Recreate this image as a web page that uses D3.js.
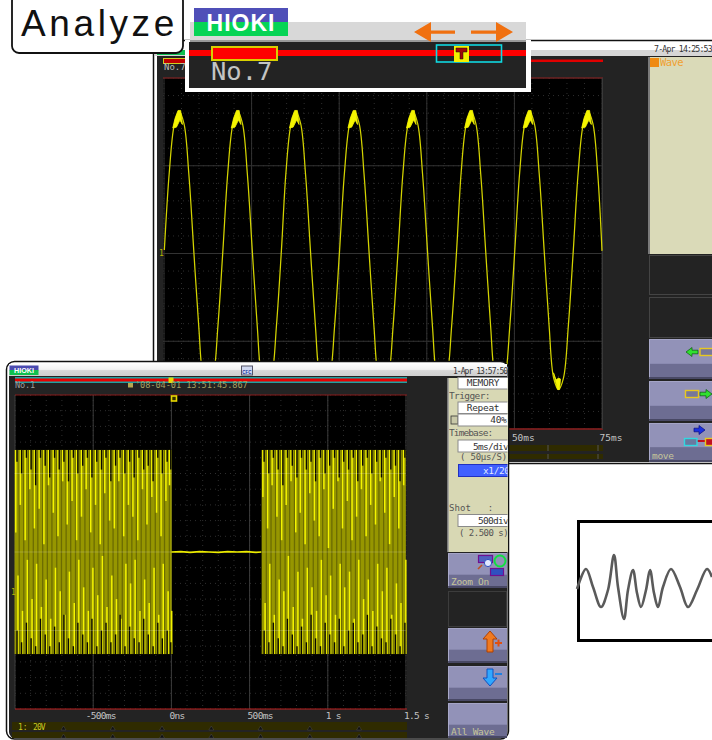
<!DOCTYPE html>
<html><head><meta charset="utf-8">
<script src="https://d3js.org/d3.v7.min.js"></script>
<style>html,body{margin:0;padding:0;background:#fff;overflow:hidden}svg{display:block}text{white-space:pre}</style>
</head><body><svg id="c" width="712" height="740"></svg>
<script>
// ---- upper capture: time in ms, level in divisions
const upperTickMs=[-50,-25,0,25,50,75];
const upperTickLabels=["-50ms","-25ms","0ns","25ms","50ms","75ms"];
const upperLevelTicks=[-2,-1,0,1,2];
const waveMs=[-49.9,-48.5,-47.1,-45.7,-44.3,-42.9,-41.5,-40.1,-38.8,-37.4,-36.0,-34.6,-33.2,
-31.8,-30.4,-29.0,-27.6,-26.2,-24.8,-23.4,-22.1,-20.7,-19.3,-17.9,-16.5,
-15.2,-13.8,-12.4,-11.0,-9.6,-8.2,-6.8,-5.5,-4.1,-2.7,-1.3,0.1,
1.5,2.9,4.3,5.7,7.1,8.5,9.9,11.2,12.6,14.0,15.4,16.8,
18.2,19.6,21.0,22.4,23.8,25.2,26.6,27.9,29.3,30.7,32.1,33.5,
34.8,36.2,37.6,39.0,40.4,41.8,43.2,44.5,45.9,47.3,48.7,50.1,
51.5,52.9,54.3,55.7,57.1,58.5,59.9,61.2,62.6,64.0,65.4,66.8,
68.2,69.6,71.0,72.4,73.8,75.0];
const waveDiv=[0.04,0.92,1.46,1.62,1.48,0.90,0.03,-0.82,-1.42,-1.55,-1.42,-0.82,0.03,
0.92,1.46,1.62,1.48,0.90,0.03,-0.82,-1.42,-1.55,-1.42,-0.82,0.03,
0.92,1.46,1.62,1.48,0.90,0.03,-0.82,-1.42,-1.55,-1.42,-0.82,0.03,
0.92,1.46,1.62,1.48,0.90,0.03,-0.82,-1.42,-1.55,-1.42,-0.82,0.03,
0.92,1.46,1.62,1.48,0.90,0.03,-0.82,-1.42,-1.55,-1.42,-0.82,0.03,
0.92,1.46,1.62,1.48,0.90,0.03,-0.82,-1.42,-1.55,-1.42,-0.82,0.03,
0.92,1.46,1.62,1.48,0.90,0.03,-0.82,-1.42,-1.55,-1.42,-0.82,0.03,
0.92,1.46,1.62,1.48,0.90,0.03];
const peakMs=[-45.7,-29.0,-12.4,4.3,21.0,37.6,54.3,71.0];
const troughMs=[62.6];
// ---- lower capture: time in ms, level in divisions
const lowerTickMs=[-1000,-500,0,500,1000,1500];
const lowerTickLabels=["","-500ms","0ns","500ms","1 s","1.5 s"];
const leftBurstMs=[-995,-966,-935,-905,-876,-845,-815,-786,-755,-725,-695,-666,-635,-606,-575,-545,-516,-485,-455,-426,-395,-365,-336,-305,-275,-246,-215,-185,-156,-125,-95,-66,-35,-12];
const rightBurstMs=[585,615,644,675,705,734,765,795,824,855,885,914,945,975,1004,1035,1065,1094,1125,1155,1184,1215,1245,1274,1305,1335,1364,1395,1425,1454,1485];
const leftTopEnd=[0.25,0.6,0.15,0.8,0.3,0.55,0.1,0.85,0.5,0.2,0.9,0.35,0.65,0.15,0.45,0.8,0.25,0.6,0.1,0.75,0.4,0.3,0.9,0.2,0.6,0.45,0.15,0.8,0.35,0.7,0.5,0.2,0.65,0.85];
const leftBottomEnd=[-0.3,-0.75,-0.1,-0.6,-0.15,-0.7,-0.35,-0.85,-0.2,-0.5,-0.8,-0.25,-0.65,-0.1,-0.45,-0.75,-0.2,-0.55,-0.05,-0.7,-0.3,-0.6,-0.85,-0.15,-0.4,-0.1,-0.75,-0.35,-0.65,-0.2,-0.8,-0.15,-0.5,-0.75];
const rightTopEnd=[0.7,0.3,0.85,0.45,0.15,0.6,0.9,0.25,0.5,0.1,0.75,0.4,0.2,0.8,0.05,0.55,0.9,0.3,0.65,0.15,0.45,0.8,0.2,0.6,0.35,0.9,0.5,0.1,0.7,0.3,0.85];
const rightBottomEnd=[-0.65,-0.15,-0.8,-0.35,-0.5,-0.05,-0.7,-0.25,-0.85,-0.2,-0.45,-0.75,-0.1,-0.55,-0.3,-0.8,-0.15,-0.45,-0.25,-0.85,-0.1,-0.6,-0.35,-0.75,-0.15,-0.5,-0.2,-0.8,-0.4,-0.65,-0.1];
const gapTopEnd=[1.15,1.0,1.2,1.05,0.85,1.2,1.1,0.95,1.2,1.05,1.15,0.9,1.2,1.0,1.1,1.2,0.95,1.15,1.05,1.2,0.9,1.1,1.2,1.0,1.15,0.95,1.2,1.05,1.1,0.9,1.2,1.0,1.15,1.05];
const gapBottomEnd=[-1.0,-1.15,-0.9,-1.1,-1.2,-0.85,-1.05,-1.2,-0.95,-1.15,-0.8,-1.1,-1.2,-0.9,-1.05,-1.15,-0.85,-1.2,-1.0,-0.9,-1.15,-1.05,-0.8,-1.2,-0.95,-1.1,-1.15,-0.85,-1.05,-1.2,-0.9,-1.1,-1.0,-1.15];
const idleMs=[0,60,120,180,240,300,360,420,480,540,575];
const idleDiv=[0.0,0.005,-0.005,0.005,0.0,-0.005,0.005,0.0,0.005,-0.005,0.0];
const stripMarkMs=[-690,-375,-60,255,570,885,1200];
// ---- small inset sketch
const sketchPos=[0,9,16,24,31,37,41,47,51,56,60,64,69,73,77,81,86,94,103,111,120,130,135];
const sketchVal=[0,20,2,-18,-1,34,2,-30,-1,19,-4,-18,-1,19,-4,-18,2,20,2,-18,-1,20,12];
// ---- words
const titleWord="Analyze", brandWord="HIOKI", captureUpper="No.7", captureLower="No.1";
const clockUpper="7-Apr 14:25:53", clockLower="1-Apr 13:57:50", stampLower="'08-04-01 13:51:45.867";
const panelHeads=["Trigger:","Timebase:","( 50\u03bcs/S)","Shot   :","( 2.500 s)"];
const panelBoxes=["MEMORY","Repeat","40%","5ms/div","500div"];

const svg=d3.select("#c");
const defs=svg.append("defs");
const clip=(id,x,y,w,h)=>defs.append("clipPath").attr("id",id).append("rect").attr("x",x).attr("y",y).attr("width",w).attr("height",h);
clip("upPlot",163,78,440,351); clip("lowPanel",449,360,58.5,380); clip("page",0,0,712,740);
const logoGrad=defs.append("linearGradient").attr("id","bar").attr("x1",0).attr("x2",0).attr("y1",0).attr("y2",1);
logoGrad.append("stop").attr("offset",0).attr("stop-color","#fdfdfd");logoGrad.append("stop").attr("offset",.45).attr("stop-color","#f2f2f2");logoGrad.append("stop").attr("offset",.55).attr("stop-color","#d8d8d8");logoGrad.append("stop").attr("offset",1).attr("stop-color","#cfcfcf");

const rect=(g,x,y,w,h,fill,o={})=>g.append("rect").attr("x",x).attr("y",y).attr("width",w).attr("height",h).attr("fill",fill).attr("stroke",o.stroke||"none").attr("stroke-width",o.sw||1).attr("rx",o.rx||0);
const txt=(g,x,y,s,o={})=>g.append("text").attr("x",x).attr("y",y).text(s).attr("fill",o.fill||"#c8c8c8").attr("font-family",o.family||"'DejaVu Sans Mono',monospace").attr("font-size",o.size||9.5).attr("font-weight",o.weight||"normal").attr("letter-spacing",o.ls||0).attr("text-anchor",o.anchor||"start");
const seg=(g,x1,y1,x2,y2,c,w=1,d=null)=>g.append("line").attr("x1",x1).attr("y1",y1).attr("x2",x2).attr("y2",y2).attr("stroke",c).attr("stroke-width",w).attr("stroke-dasharray",d);
function button(g,x,y,w,h,label){
  rect(g,x,y,w,h,"#6d6d92");
  rect(g,x,y,w,h*0.62,"#9292b8");
  seg(g,x+.5,y,x+.5,y+h,"#a9a9c9",1);
  seg(g,x,y+.5,x+w,y+.5,"#a4a4c6",1);
  seg(g,x,y+h-1,x+w,y+h-1,"#3c3c55",1.5);
  if(label) txt(g,x+3,y+h-3,label,{fill:"#c6c69a",size:9.5,ls:-.3});
}
const arrowH=(g,x0,x1,y,c,edge="#0a5a0a")=>{
  const d=x1>x0?1:-1,hl=6;
  g.append("path").attr("d",`M${x0},${y-1.8}L${x1-d*hl},${y-1.8}L${x1-d*hl},${y-4.5}L${x1},${y}L${x1-d*hl},${y+4.5}L${x1-d*hl},${y+1.8}L${x0},${y+1.8}Z`).attr("fill",c).attr("stroke",edge).attr("stroke-width",.7);
};
const arrowV=(g,x,y0,y1,c,edge)=>{
  const d=y1>y0?1:-1,hl=8;
  g.append("path").attr("d",`M${x-3},${y0}L${x-3},${y1-d*hl}L${x-7},${y1-d*hl}L${x},${y1}L${x+7},${y1-d*hl}L${x+3},${y1-d*hl}L${x+3},${y0}Z`).attr("fill",c).attr("stroke",edge).attr("stroke-width",1);
};

// ================= UPPER SCOPE =================
const up=svg.append("g").attr("clip-path","url(#page)");
rect(up,153.5,40.5,580,423,"#fff",{stroke:"#111",sw:1.5,rx:6});
rect(up,157,50,560,412,"#232323");
rect(up,155,42,560,8,"#fff");
rect(up,155,50,560,6,"#d6d6d6");
rect(up,157,50,28,5,"#10c050");
txt(up,654,52,clockUpper,{fill:"#333",size:8.2,ls:-.8});
rect(up,163,59.5,440,2.5,"#e00000");
rect(up,163.5,58.5,23,5,"#c00000",{stroke:"#cfcf20"});
txt(up,164,70,captureUpper,{size:9,fill:"#bdbdbd"});
const xU=d3.scaleLinear().domain([-50,75]).range([164,602]);
const yU=d3.scaleLinear().domain([-2,2]).range([429,78]);
const pU=up.append("g");
rect(pU,163,78,440,351,"#000");
pU.selectAll("line.fx").data(xU.ticks(25)).join("line").attr("class","fx").attr("x1",xU).attr("x2",xU).attr("y1",78).attr("y2",429).attr("stroke","#2e2e2e").attr("stroke-dasharray","1 4");
pU.selectAll("line.fy").data(yU.ticks(20)).join("line").attr("class","fy").attr("y1",yU).attr("y2",yU).attr("x1",163).attr("x2",603).attr("stroke","#2e2e2e").attr("stroke-dasharray","1 4");
pU.append("g").selectAll("line").data(upperTickMs).join("line").attr("x1",xU).attr("x2",xU).attr("y1",78).attr("y2",429).attr("stroke","#333");
pU.append("g").selectAll("line").data(upperLevelTicks).join("line").attr("y1",yU).attr("y2",yU).attr("x1",163).attr("x2",603).attr("stroke","#333");
seg(pU,163,78,603,78,"#8a1a1a",1.2); seg(pU,163,429,603,429,"#8a1a1a",1.5); seg(pU,602.5,78,602.5,429,"#3a3a3a",1);
const lineU=d3.line().x((d,i)=>xU(waveMs[i])).y(d=>yU(d)).curve(d3.curveCatmullRom.alpha(.5));
const wg=pU.append("g").attr("clip-path","url(#upPlot)");
wg.append("path").attr("d",lineU(waveDiv)).attr("fill","none").attr("stroke","#d4d400").attr("stroke-width",1.25);
const capLine=d3.line().x(d=>xU(d[0])).y(d=>yU(d[1]));
wg.selectAll("path.cap").data(peakMs).join("path").attr("class","cap").attr("d",p=>capLine([[p-1.8,1.43],[p-1.15,1.54],[p-.3,1.63],[p+.45,1.63],[p+.95,1.47],[p+.25,1.52],[p-.75,1.44]])+"Z").attr("fill","#f4f400").attr("stroke","#f4f400").attr("stroke-width",.8);
wg.selectAll("path.tr").data(troughMs).join("path").attr("class","tr").attr("d",p=>capLine([[p-1.45,-1.36],[p-.7,-1.44],[p,-1.42],[p+.55,-1.43],[p+.3,-1.55],[p-.3,-1.55]])+"Z").attr("fill","#f4f400").attr("stroke","#f4f400").attr("stroke-width",.8);
txt(up,159,256,"1",{fill:"#b4b400",size:8});
const axU=d3.axisBottom(xU).tickValues(upperTickMs).tickSize(0).tickFormat((d,i)=>upperTickLabels[i]);
const gaxU=up.append("g").attr("transform","translate(0,429)").call(axU);
gaxU.select(".domain").remove();
gaxU.selectAll("text").attr("fill","#c4c4c4").attr("font-family","'DejaVu Sans Mono',monospace").attr("font-size",9.5).attr("text-anchor","start").attr("x",-3).attr("y",5).attr("dy","0.71em");
rect(up,163,445,440,6,"#2f2b00"); rect(up,163,454,440,5,"#2f2b00");
seg(up,598,445,598,451,"#555",1); seg(up,598,454,598,459,"#555",1);seg(up,548,445,548,451,"#555",1); seg(up,548,454,548,459,"#555",1);
rect(up,650,57,62,197,"#dadab8");
seg(up,649,57,649,254,"#999",1.5);
rect(up,650,58,9,9,"#ef8a10");
txt(up,660,66,"Wave",{fill:"#f0a030",size:10.5,ls:-.6});
rect(up,649.5,255.5,70,39,"none",{stroke:"#444"});
rect(up,649.5,297.5,70,40,"none",{stroke:"#444"});
button(up,649,339,70,40);
button(up,649,381,70,40);
button(up,649,423,70,39,"move");
arrowH(up,698,686,352,"#30e030");
rect(up,700,348.5,16,7,"#77779a",{stroke:"#e8c820",sw:1.4});
rect(up,685.5,390.5,13,7,"#77779a",{stroke:"#e8c820",sw:1.4});
arrowH(up,700,712,394,"#30e030");
arrowH(up,694,705,430,"#1a30e0","#0a0a80");
seg(up,697,441,705,441,"#c01020",2);
rect(up,684.5,438.5,12.5,7,"#6a7aa0",{stroke:"#30d8e0",sw:1.4});
rect(up,705.5,438.5,10,7,"#c01020",{stroke:"#e8c820",sw:1.4});

// ================= LOWER SCOPE =================
const lo=svg.append("g");
rect(lo,6.5,361.5,502,377.5,"#fff",{stroke:"#111",sw:1.5,rx:8});
rect(lo,9,365,498.5,373,"#232323",{rx:6});
rect(lo,9,364,498,12,"url(#bar)");
rect(lo,9.5,365.5,29,5,"#4a4ab0"); rect(lo,9.5,370,29,5,"#10c050");
txt(lo,24,373,brandWord,{fill:"#fff",size:7.2,weight:"bold",family:"'Liberation Sans',sans-serif",anchor:"middle"});
rect(lo,241.5,366,11,9,"#d0d8f0",{stroke:"#556"});
txt(lo,246.8,373.5,"CFC",{fill:"#2030a0",size:4.5,anchor:"middle",weight:"bold",family:"'Liberation Sans',sans-serif"});
txt(lo,453,374,clockLower,{fill:"#333",size:8,ls:-.95});
rect(lo,15,377,392,6,"#20a0a0");
rect(lo,15,378.5,392,3,"#e80000");
rect(lo,168.5,377.5,5,5.5,"#e8d800");
txt(lo,15,388,captureLower,{size:8.6,fill:"#9a9a9a",ls:-.2});
rect(lo,128,383,5,4.5,"#b4a850");
txt(lo,135,388,stampLower,{size:8.6,fill:"#a8a060",ls:-.05});

const xL=d3.scaleLinear().domain([-1000,1500]).range([15,406]);
const yL=d3.scaleLinear().domain([-2,2]).range([709,395]);
const pL=lo.append("g");
rect(pL,15,395,392,314,"#000");
pL.selectAll("line.fx").data(xL.ticks(25)).join("line").attr("class","fx").attr("x1",xL).attr("x2",xL).attr("y1",395).attr("y2",709).attr("stroke","#2e2e2e").attr("stroke-dasharray","1 4");
pL.selectAll("line.fy").data(yL.ticks(20)).join("line").attr("class","fy").attr("y1",yL).attr("y2",yL).attr("x1",15).attr("x2",407).attr("stroke","#2e2e2e").attr("stroke-dasharray","1 4");
pL.append("g").selectAll("line").data(lowerTickMs).join("line").attr("x1",xL).attr("x2",xL).attr("y1",395).attr("y2",709).attr("stroke","#3c3c3c");
seg(pL,15,395,407,395,"#8a1a1a",1.2); seg(pL,15,709,407,709,"#c02020",1.2);
function burst(times,topEnd,botEnd){
  const g=pL.append("g");
  const t0=times[0]-8,t1=times[times.length-1]+14;
  rect(g,xL(t0),yL(1.3),xL(t1)-xL(t0),yL(-1.3)-yL(1.3),"#969600");
  g.selectAll("line.st").data(times.filter(d=>d+22<t1)).join("line").attr("class","st").attr("x1",d=>xL(d+22)).attr("x2",d=>xL(d+22)).attr("y1",yL(1.3)).attr("y2",yL(-1.3)).attr("stroke","#6c6c00").attr("stroke-width",1.3);
  g.selectAll("line.bt").data(times).join("line").attr("class","bt").attr("x1",d=>xL(d)).attr("x2",d=>xL(d)).attr("y1",yL(1.3)).attr("y2",(d,i)=>yL(topEnd[i])).attr("stroke","#f4f400").attr("stroke-width",1.5);
  g.selectAll("line.bb").data(times).join("line").attr("class","bb").attr("x1",d=>xL(d+14)).attr("x2",d=>xL(d+14)).attr("y1",yL(-1.3)).attr("y2",(d,i)=>yL(botEnd[i])).attr("stroke","#f4f400").attr("stroke-width",1.5);
  g.selectAll("line.gt").data(times).join("line").attr("class","gt").attr("x1",d=>xL(d+8)).attr("x2",d=>xL(d+8)).attr("y1",yL(1.31)).attr("y2",(d,i)=>yL(gapTopEnd[i])).attr("stroke","#0a0a00").attr("stroke-width",1.4);
  g.selectAll("line.gb").data(times).join("line").attr("class","gb").attr("x1",d=>xL(d+8)).attr("x2",d=>xL(d+8)).attr("y1",yL(-1.31)).attr("y2",(d,i)=>yL(gapBottomEnd[i])).attr("stroke","#0a0a00").attr("stroke-width",1.4);
  g.selectAll("line.gl").data([-1,0,1]).join("line").attr("class","gl").attr("y1",yL).attr("y2",yL).attr("x1",xL(t0)).attr("x2",xL(t1)).attr("stroke","#fff").attr("stroke-opacity",.18);
}
burst(leftBurstMs,leftTopEnd,leftBottomEnd);
burst(rightBurstMs,rightTopEnd,rightBottomEnd);
pL.append("path").attr("d",d3.line().x((d,i)=>xL(idleMs[i])).y(d=>yL(d))(idleDiv)).attr("fill","none").attr("stroke","#ecec00").attr("stroke-width",1.6);
rect(pL,171.5,396,5,5,"#332f00",{stroke:"#e8d800",sw:1.6});
txt(lo,11,595,"1",{fill:"#b4b400",size:8});
const axL=d3.axisBottom(xL).tickValues(lowerTickMs).tickSize(0).tickFormat((d,i)=>lowerTickLabels[i]);
const gaxL=lo.append("g").attr("transform","translate(0,709)").call(axL);
gaxL.select(".domain").remove();
gaxL.selectAll("text").attr("fill","#c4c4c4").attr("font-family","'DejaVu Sans Mono',monospace").attr("font-size",9.5).attr("letter-spacing",-.7).attr("text-anchor","start").attr("x",d=>d<0?-8:-2.5).attr("y",3).attr("dy","0.71em");
rect(lo,12,722,395,8,"#2f2b00"); rect(lo,12,732,395,6,"#2f2b00");
lo.selectAll("path.mk").data(stripMarkMs).join("path").attr("class","mk").attr("d",d=>{const x=xL(d);return `M${x},726L${x-2.5},730L${x+2.5},730ZM${x},734L${x-2.5},738L${x+2.5},738Z`;}).attr("fill","#111").attr("stroke","#555").attr("stroke-width",.4);
txt(lo,18,730,"1:",{fill:"#c8c820",size:8});
txt(lo,33,730,"20V",{fill:"#c8c820",size:8,ls:-.9});
rect(lo,448,378,60,174,"#d8d8b4");
seg(lo,448,378,448,552,"#9a9a9a",1.5);
const pan=lo.append("g").attr("clip-path","url(#lowPanel)");
const box=(y,h,s,o={})=>{rect(pan,458,y,55,h,"#fff",{stroke:"#8a8a8a"});txt(pan,o.right?506.5:483,y+h-2.8,s,{fill:"#333",size:9.5,anchor:o.right?"end":"middle",ls:-.3});};
box(377.5,11.5,panelBoxes[0]);
txt(pan,449,399,panelHeads[0],{fill:"#555",size:9.5,ls:-.6});
box(402,11.5,panelBoxes[1]);
rect(pan,451,416,7,8,"#c8c8a8",{stroke:"#333",sw:.8});
box(414,12,panelBoxes[2],{right:true});
txt(pan,449,436,panelHeads[1],{fill:"#555",size:9.5,ls:-.9});
rect(pan,458,440,55,12,"#fff",{stroke:"#8a8a8a"});
txt(pan,473,449.5,panelBoxes[3],{fill:"#333",ls:-.7});
txt(pan,460,460,panelHeads[2],{fill:"#555",size:9,ls:-.2});
rect(pan,458.5,464.5,55,12,"#4060ff",{stroke:"#2030c0"});
txt(pan,483,474,"x1/20",{fill:"#dfe6ff",size:9.5,ls:-.4});
txt(pan,449,511,panelHeads[3],{fill:"#555",size:9,ls:.1});
rect(pan,458,514.5,55,12,"#fff",{stroke:"#8a8a8a"});
txt(pan,478,524,panelBoxes[4],{fill:"#333",ls:-.7});
txt(pan,459,536,panelHeads[4],{fill:"#555",size:9,ls:-.5});
button(lo,448,553,59,35,"Zoom On");
rect(lo,448.5,591.5,58,35,"none",{stroke:"#3c3c3c"});
button(lo,448,628,59,35);
button(lo,448,666,59,35);
button(lo,448,703,59,35,"All Wave");
arrowV(lo,490,652,631,"#f07a20","#b04000");
rect(lo,495,642,7,2,"#e05010"); rect(lo,497.5,639.5,2,7,"#e05010");
arrowV(lo,490,669,686,"#30a8ff","#1050c0");
rect(lo,495,673,7,2,"#2080e0");
rect(lo,478.5,555.5,14,7,"#5060c0",{stroke:"#701090",sw:1.2});
seg(lo,482,565,478,569,"#c05020",1.6);
lo.append("circle").attr("cx",488).attr("cy",563).attr("r",3.6).attr("fill","#e0e8ff").attr("stroke","#3050c0");
rect(lo,490.5,568.5,13,7,"#3050c0",{stroke:"#701090",sw:1.2});
lo.append("circle").attr("cx",500).attr("cy",561).attr("r",5.5).attr("fill","none").attr("stroke","#10e040").attr("stroke-width",2);

// ================= INSET SKETCH =================
const sk=svg.append("g");
rect(sk,578.5,521.5,140,119,"#fff",{stroke:"#000",sw:3});
const xS=d3.scaleLinear().domain([0,135]).range([577,712]);
const yS=d3.scaleLinear().domain([-60,60]).range([649,529]);
sk.append("path").attr("d",d3.line().x((d,i)=>xS(sketchPos[i])).y(d=>yS(d)).curve(d3.curveCatmullRom.alpha(.5))(sketchVal)).attr("fill","none").attr("stroke","#5a5a5a").attr("stroke-width",2.6);

// ================= CALLOUT =================
const co=svg.append("g");
rect(co,12,-6,171,59,"#fff",{stroke:"#111",sw:1.8,rx:7});
txt(co,21,36,titleWord,{fill:"#111",size:37,ls:3.6,family:"'Liberation Sans',Arial,sans-serif"});
rect(co,185,40,346,52,"#fff");
rect(co,190,22,336,20,"#d8d8d8");
seg(co,190,41,526,41,"#9a9a9a",2);
rect(co,189,42,337,46,"#232323");
rect(co,194,8,94,14.5,"#4f4fb8");
rect(co,194,22,94,14,"#06d455");
txt(co,241,30.5,brandWord,{fill:"#fff",size:23,weight:"bold",family:"'Liberation Sans',sans-serif",anchor:"middle",ls:1});
rect(co,189,50,337,6,"#ff0000");
rect(co,212,47,65,13,"#ff0000",{stroke:"#d8d000",sw:2});
rect(co,436.5,45,65,17,"none",{stroke:"#10d8e0",sw:1.6});
rect(co,454,46,15,16,"#f4f000");
co.append("path").attr("d","M456,48H467V52H463V59H460V52H456Z").attr("fill","#a00808").attr("stroke","#111").attr("stroke-width",.5);
txt(co,211,80,captureUpper,{fill:"#c4c4c4",size:25.5});
const orange="#f07010";
co.append("path").attr("d","M414,32L431,22L431,30.5L455,30.5L455,33.8L431,33.8L431,42Z").attr("fill",orange);
co.append("path").attr("d","M513,32L496,22L496,30.5L471,30.5L471,33.8L496,33.8L496,42Z").attr("fill",orange);
</script></body></html>
